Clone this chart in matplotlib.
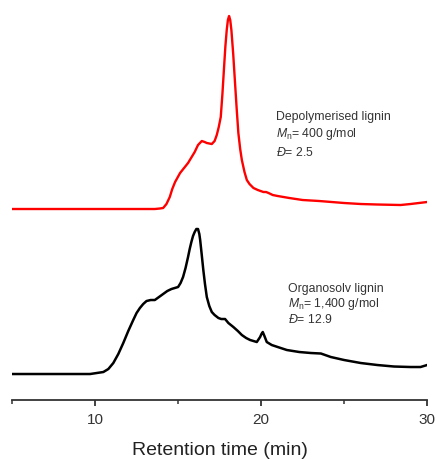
import matplotlib
matplotlib.use("Agg")
import matplotlib.pyplot as plt
from matplotlib.ticker import MultipleLocator

plt.rcParams["font.family"] = ["Liberation Sans", "DejaVu Sans"]
plt.rcParams["mathtext.fontset"] = "custom"
plt.rcParams["mathtext.rm"] = "Liberation Sans"
plt.rcParams["mathtext.it"] = "Liberation Sans:italic"

# retention time (min) and detector signal (height above each trace's baseline)
red_time = [5.0, 8.0, 11.0, 13.0, 13.6, 13.9, 14.1, 14.3, 14.5, 14.65, 14.82, 15.12,
            15.6, 16.0, 16.2, 16.43, 16.6, 16.73, 17.03, 17.2, 17.33, 17.45, 17.57,
            17.67, 17.77, 17.85, 17.93, 18.0, 18.07, 18.14, 18.21, 18.32, 18.43,
            18.53, 18.63, 18.74, 18.84, 19.0, 19.14, 19.3, 19.54, 19.8, 20.14, 20.3,
            20.45, 20.7, 21.0, 21.7, 22.5, 23.5, 25.0, 26.0, 27.0, 28.4, 29.0, 30.0]
red_signal = [0, 0, 0, 0, 0, 0.5, 1, 5, 12, 20, 27, 36,
              46, 57, 64, 68, 67, 66, 65, 68, 74, 82, 92,
              115, 142, 163, 179, 189, 193, 189, 179, 155, 126,
              100, 76, 60, 49, 37, 29, 25, 21, 19, 17, 17,
              16, 14, 13, 11, 9, 8, 6, 5, 4.5, 4, 5, 7]

black_time = [5.0, 7.0, 9.0, 9.7, 10.1, 10.5, 10.8, 11.1, 11.4, 11.7, 12.0, 12.3,
              12.5, 12.7, 12.9, 13.1, 13.35, 13.6, 13.85, 14.1, 14.35, 14.6, 14.8,
              15.0, 15.15, 15.3, 15.45, 15.6, 15.7, 15.8, 15.9, 16.0, 16.1, 16.2,
              16.28, 16.33, 16.42, 16.52, 16.62, 16.73, 16.88, 17.03, 17.2, 17.43,
              17.6, 17.83, 18.03, 18.33, 18.6, 18.84, 19.1, 19.34, 19.74, 19.94,
              20.02, 20.1, 20.2, 20.34, 20.64, 21.0, 21.55, 22.3, 23.0, 23.6, 24.2,
              25.0, 26.0, 27.0, 28.0, 29.0, 29.6, 30.0]
black_signal = [0, 0, 0, 0, 1, 2, 5, 11, 20, 31, 43, 54,
                61, 66, 70, 73, 74, 74, 77, 80, 83, 85, 86,
                87, 91, 97, 106, 117, 125, 132, 138, 142, 145, 145,
                140, 134, 120, 104, 90, 77, 68, 62, 59, 56,
                55, 55, 51, 47, 43, 39, 36, 34, 32, 37,
                40, 42, 38, 32, 29, 27, 24, 22, 21, 20.5, 17,
                14, 11, 9, 7.5, 7, 7, 9]

red_offset = 191
black_offset = 26

fig = plt.figure(figsize=(4.37, 4.59), dpi=100)
ax = fig.add_axes([0.0275, 0.1285, 0.95, 0.8715])

ax.plot(red_time, [v + red_offset for v in red_signal], color="#ff0000",
        linewidth=1.7, solid_joinstyle="round")
ax.plot(black_time, [v + black_offset for v in black_signal], color="black",
        linewidth=1.8, solid_joinstyle="round")

ax.set_xlim(5, 30)
ax.set_ylim(0, 400)

for side in ["left", "right", "top"]:
    ax.spines[side].set_visible(False)
ax.spines["bottom"].set_color("#333333")
ax.spines["bottom"].set_linewidth(1.3)
ax.set_yticks([])
ax.xaxis.set_major_locator(MultipleLocator(10))
ax.xaxis.set_minor_locator(MultipleLocator(5))
ax.tick_params(axis="x", which="major", direction="out", length=4, width=1.3,
               colors="#333333", labelsize=11, pad=5)
ax.tick_params(axis="x", which="minor", direction="out", length=3, width=1.1,
               colors="#333333")
ax.set_xlabel("Retention time (min)", fontsize=14, color="#222222", labelpad=11)

txt = dict(fontsize=8.8, color="#333333", va="center", ha="left")
ax.text(20.9, 283, "Depolymerised lignin", **txt)
ax.text(20.9, 266, r"$M_{\mathrm{n}}$= 400 g/mol", **txt)
ax.text(20.9, 248, r"$Đ$= 2.5", **txt)

ax.text(21.6, 111, "Organosolv lignin", **txt)
ax.text(21.6, 96, r"$M_{\mathrm{n}}$= 1,400 g/mol", **txt)
ax.text(21.6, 81, r"$Đ$= 12.9", **txt)

fig.savefig("out.png", dpi=100)
